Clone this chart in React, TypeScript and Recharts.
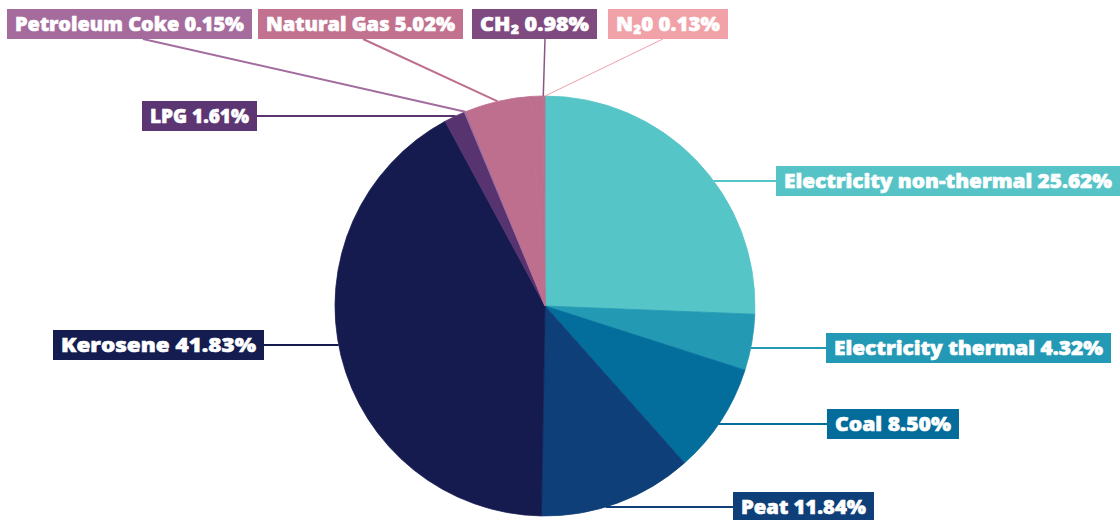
import React from "react";
import { PieChart, Pie, Cell } from "recharts";

// share of each source, clockwise from 12 o'clock
const sources = [
  "Electricity non-thermal",
  "Electricity thermal",
  "Coal",
  "Peat",
  "Kerosene",
  "LPG",
  "Petroleum Coke",
  "Natural Gas",
  "CH₂",
  "N₂0",
];
const shares = [25.62, 4.32, 8.5, 11.84, 41.83, 1.61, 0.15, 5.02, 0.98, 0.13];

const sliceColors = [
  "#56c5c8",
  "#2399b3",
  "#036d9b",
  "#0e3f78",
  "#151b4f",
  "#573470",
  "#a36c9f",
  "#be6f8e",
  "#be6f8e",
  "#be6f8e",
];
const boxColors = [
  "#56c4c7",
  "#2399b5",
  "#046c9a",
  "#0e3f78",
  "#151c50",
  "#5c3672",
  "#a56b9d",
  "#c2728f",
  "#7f4a80",
  "#f1a2a8",
];
const lineColors = [
  "#56c5c8",
  "#2399b3",
  "#036d9b",
  "#0e3f78",
  "#151b4f",
  "#573470",
  "#a36c9f",
  "#be6f8e",
  "#8a5585",
  "#f0a0a8",
];

const CX = 545;
const CY = 306;
const R = 210;
const BOX_H = 30;
const RAD = Math.PI / 180;

type LabelBox = {
  x: number;
  y: number;
  w: number;
  link: "edge" | "mid" | "end";
  fromX?: number;
  lineWidth: number;
};

// label box placement, same order as sources
const labelBoxes: LabelBox[] = [
  { x: 776, y: 166, w: 344, link: "edge", lineWidth: 2 },
  { x: 826, y: 333, w: 285, link: "edge", lineWidth: 2 },
  { x: 827, y: 409, w: 132, link: "edge", lineWidth: 2 },
  { x: 733, y: 492, w: 141, link: "edge", lineWidth: 2 },
  { x: 53, y: 330, w: 211, link: "edge", lineWidth: 2 },
  { x: 142, y: 101, w: 115, link: "edge", lineWidth: 2 },
  { x: 7, y: 9, w: 245, link: "mid", fromX: 143, lineWidth: 2 },
  { x: 258, y: 9, w: 205, link: "mid", fromX: 363, lineWidth: 2 },
  { x: 472, y: 9, w: 125, link: "end", fromX: 545, lineWidth: 1.5 },
  { x: 608, y: 9, w: 120, link: "end", fromX: 663, lineWidth: 1 },
];

const data = sources.map((name, i) => ({ name, value: shares[i] }));

function renderLabel(props: any) {
  const { cx, cy, outerRadius, midAngle, endAngle, index } = props;
  const box = labelBoxes[index];
  const midY = box.y + BOX_H / 2;
  let x1: number, y1: number, x2: number, y2: number;

  if (box.link === "edge") {
    const dy = midY - cy;
    const dx = Math.sqrt(Math.max(outerRadius * outerRadius - dy * dy, 0));
    const right = box.x > cx;
    x1 = right ? cx + dx : cx - dx;
    y1 = midY;
    x2 = right ? box.x : box.x + box.w;
    y2 = midY;
  } else {
    const a = box.link === "mid" ? midAngle : endAngle;
    x1 = cx + outerRadius * Math.cos(-a * RAD);
    y1 = cy + outerRadius * Math.sin(-a * RAD);
    x2 = box.fromX as number;
    y2 = box.y + BOX_H;
  }

  const text = `${sources[index]} ${shares[index].toFixed(2)}%`;
  return (
    <g key={`label-${index}`}>
      <line x1={x1} y1={y1} x2={x2} y2={y2} stroke={lineColors[index]} strokeWidth={box.lineWidth} />
      <rect x={box.x} y={box.y} width={box.w} height={BOX_H} fill={boxColors[index]} />
      <text
        x={box.x + box.w / 2}
        y={midY + 7}
        textAnchor="middle"
        fill="#ffffff"
        stroke="#ffffff"
        strokeWidth={0.6}
        fontSize={20}
        fontWeight={800}
        fontFamily="'Open Sans', 'DejaVu Sans', sans-serif"
        textLength={box.w - 16}
        lengthAdjust="spacingAndGlyphs"
      >
        {text}
      </text>
    </g>
  );
}

export default function App() {
  return (
    <div style={{ position: "absolute", left: 0, top: 0, width: 1120, height: 520, background: "#ffffff" }}>
      <PieChart width={1120} height={520} margin={{ top: 0, right: 0, bottom: 0, left: 0 }}>
        <Pie
          data={data}
          dataKey="value"
          nameKey="name"
          cx={CX}
          cy={CY}
          outerRadius={R}
          startAngle={90}
          endAngle={-270}
          label={renderLabel}
          labelLine={false}
          isAnimationActive={false}
        >
          {data.map((d, i) => (
            <Cell key={d.name} fill={sliceColors[i]} stroke={sliceColors[i]} strokeWidth={0.75} />
          ))}
        </Pie>
      </PieChart>
    </div>
  );
}
